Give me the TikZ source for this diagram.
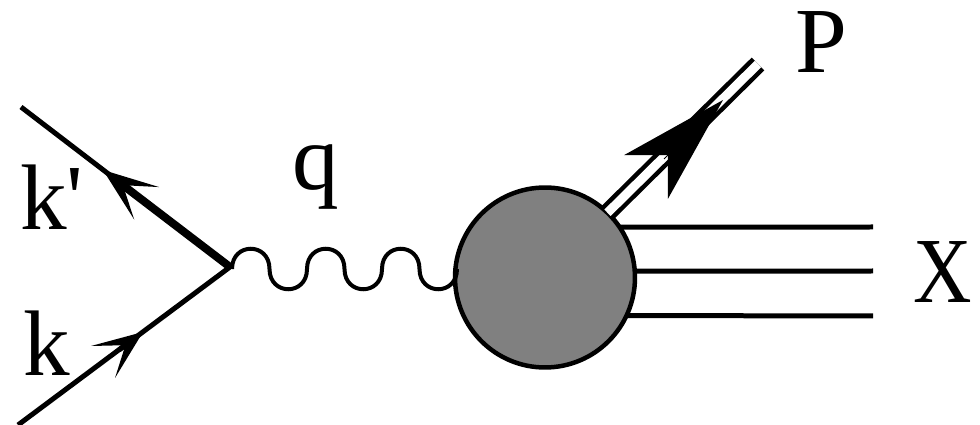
\documentclass[tikz,border=0pt]{standalone}
\usepackage{fontspec}
\setmainfont{Liberation Serif}
\usetikzlibrary{arrows.meta}

\begin{document}
\begin{tikzpicture}[
  x=0.02cm, y=-0.02cm,
  font=\fontsize{53}{53}\selectfont,
  lab/.style={anchor=base west, inner sep=0pt, outer sep=0pt},
  line/.style={draw=black, line width=1mm},
  thickline/.style={draw=black, line width=1.6mm},
  lepton/.style={line, -{Stealth[length=10mm, width=8mm, inset=5.6mm, line width=0pt]}},
  leptonout/.style={thickline, -{Stealth[length=11mm, width=8.2mm, inset=6mm, line width=0pt]}},
  photon/.style={draw=black, line width=0.8mm},
  hadron/.style={draw=black, line width=0.9mm, double, double distance=1.8mm},
  hadronhead/.style={draw=black, line width=0.2mm, -{Stealth[length=21.8mm, width=12.4mm, inset=6.2mm, line width=0pt]}},
  blobnode/.style={circle, draw=black, line width=0.9mm, fill=black!50, minimum size=36mm, inner sep=0pt, outer sep=0pt}
]
\useasboundingbox (0,0) rectangle (980,425);

% Lepton legs
\coordinate (vtx) at (230,267);
\coordinate (kin) at (18,425);
\coordinate (kout) at (21,107);
\coordinate (tipk) at (143,332);
\coordinate (tailk) at (119,350);
\coordinate (tipkout) at (103,170);

% Hadronic blob
\node[blobnode] (blob) at (545,277.5) {};
\coordinate (qstart) at (232,269);

% Outgoing ends
\coordinate (pout) at (758,64);
\coordinate (tipp) at (723,100);
\coordinate (tailp) at (664,159);
\coordinate (xa) at (873,227);
\coordinate (xb) at (873,271);
\coordinate (xc) at (873,316);

% Edges
\draw[line] (kout) -- (vtx);
\draw[leptonout] (vtx) -- (tipkout);
\draw[line] (kin) -- (vtx);
\draw[lepton] (tailk) -- (tipk);
\draw[photon] (qstart) \foreach \s in {-27,27,-27,27,-27,27} { .. controls +(0,\s) and +(0,\s) .. ++(37.5,0) };
\draw[hadron] (blob.46) -- (pout);
\draw[hadronhead] (tailp) -- (tipp);
\draw[line] (blob.34) -- (xa);
\draw[line] (blob.4) -- (xb);
\draw[line] (blob.-25) -- (xc);

% Labels
\node[lab] (lkout) at (20,230) {k\textquotesingle};
\node[lab] (lk) at (23,376) {k};
\node[lab] (lq) at (292,190) {q};
\node[lab] (lp) at (795,73) {P};
\node[lab, xscale=0.87] (lx) at (913,303) {X};
\end{tikzpicture}
\end{document}
